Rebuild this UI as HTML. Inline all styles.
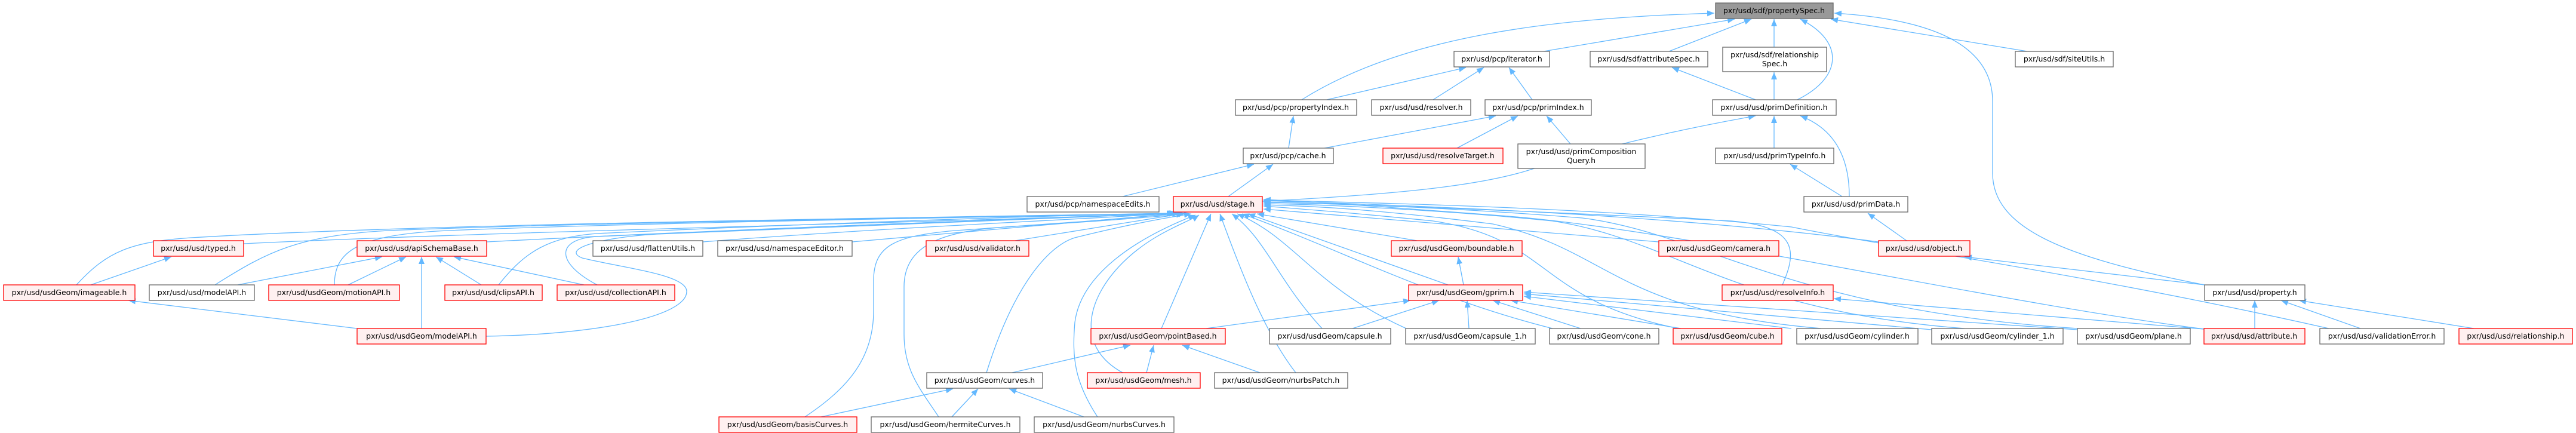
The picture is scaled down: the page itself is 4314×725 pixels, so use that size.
<!DOCTYPE html>
<html><head><meta charset="utf-8"><style>
html,body{margin:0;padding:0;background:#fff;}
svg{display:block;}
text{font-family:"DejaVu Sans","Liberation Sans",sans-serif;font-size:12.5px;fill:#000;text-anchor:middle;}
.e{fill:none;stroke:#63b8ff;stroke-width:1.3;}
.w{fill:#fff;stroke:#666;stroke-width:1.3;}
.r{fill:#fff0f0;stroke:#ff0000;stroke-width:1.3;}
.g{fill:#999;stroke:#666;stroke-width:1.3;}
</style></head><body>
<svg width="4314" height="725" viewBox="0 0 4314 725" xmlns="http://www.w3.org/2000/svg">
<defs><marker id="a" markerUnits="userSpaceOnUse" markerWidth="14" markerHeight="12" refX="12" refY="5" orient="auto"><path d="M0,0 L12,5 L0,10 z" fill="#63b8ff"/></marker></defs>
<g class="e" marker-end="url(#a)">
<path d="M2180,167 C2350,60 2600,30 2871,22"/>
<path d="M2585,86 L2905,32"/>
<path d="M2795,86 L2933,32"/>
<path d="M2971,79 L2971,32"/>
<path d="M3010,167 C3085,130 3090,70 3015,32"/>
<path d="M3395,86 L3066,32"/>
<path d="M3692,477 C3450,430 3337,380 3337,290 L3337,170 C3337,60 3200,30 3072,22"/>
<path d="M2222,167 L2455,113"/>
<path d="M2400,167 L2485,113"/>
<path d="M2566,167 L2527,113"/>
<path d="M2940,167 L2800,113"/>
<path d="M2971,167 L2971,121"/>
<path d="M2158,248 L2166,194"/>
<path d="M2218,248 L2505,194"/>
<path d="M2440,248 L2542,194"/>
<path d="M2630,241 L2590,194"/>
<path d="M2114,337 C2350,325 2480,310 2560,285 C2700,240 2850,210 2940,194"/>
<path d="M2971,248 L2971,194"/>
<path d="M3097,329 C3097,260 3070,215 3015,194"/>
<path d="M1880,329 L2100,275"/>
<path d="M2057,329 L2132,275"/>
<path d="M3085,329 L2998,275"/>
<path d="M3193,403 L3128,357"/>
<path d="M3692,477 L3290,430"/>
<path d="M3776,550 L3776,503"/>
<path d="M3953,550 L3820,503"/>
<path d="M4143,550 L3850,503"/>
<path d="M3691,551 L3071,500"/>
<!-- stage incoming left -->
<path d="M408,408 C900,385 1600,372 1966,357"/>
<path d="M815,405 C1300,380 1700,368 1968,357"/>
<path d="M1177,405 C1500,380 1800,368 1970,357"/>
<path d="M1427,405 C1650,385 1850,368 1975,357"/>
<path d="M1700,403 L1985,357"/>
<path d="M128,477 C180,420 220,405 320,398 C700,375 1500,365 1966,357"/>
<path d="M360,477 C450,420 500,395 650,386 C1000,372 1600,365 1966,357"/>
<path d="M560,477 C560,420 600,393 750,386 C1100,372 1600,365 1968,357"/>
<path d="M835,477 C880,420 920,397 1000,391 C1300,377 1700,362 1970,357"/>
<path d="M1000,477 C930,440 930,400 1000,396 C1300,383 1700,365 1970,357"/>
<path d="M814,563 C1000,560 1150,530 1150,488 C1150,460 1050,450 975,432 C940,418 1000,398 1100,392 C1500,374 1800,362 1972,357"/>
<path d="M1348,698 C1420,650 1463,600 1463,520 L1463,470 C1463,410 1500,395 1600,386 C1800,372 1900,365 1975,357"/>
<path d="M1572,698 C1540,650 1514,620 1514,560 L1514,480 C1514,400 1600,385 1700,379 C1850,370 1950,362 1982,358"/>
<path d="M1652,624 C1700,470 1760,410 1800,398 C1880,378 1950,365 1995,358"/>
<path d="M1880,624 C1800,580 1820,500 1880,440 C1930,390 1990,372 2008,360"/>
<path d="M1838,698 C1800,640 1795,600 1800,540 C1810,460 1900,400 2002,360"/>
<path d="M1945,550 L2028,358"/>
<path d="M2170,624 C2120,560 2080,460 2043,358"/>
<path d="M2214,550 C2140,470 2120,400 2063,358"/>
<path d="M2355,550 C2200,480 2170,400 2072,358"/>
<path d="M2600,550 C2400,500 2250,420 2080,358"/>
<path d="M2425,477 L2090,358"/>
<path d="M2373,403 L2105,358"/>
<path d="M2778,405 L2116,350"/>
<path d="M2810,550 C2570,500 2600,400 2400,370 C2250,355 2180,350 2116,345"/>
<path d="M3050,550 C2700,520 2700,420 2500,375 C2300,350 2200,345 2116,343"/>
<path d="M3290,550 C2900,520 2800,400 2600,370 C2400,350 2200,342 2116,341"/>
<path d="M3480,550 C3000,520 2850,390 2650,365 C2400,345 2200,340 2116,339"/>
<path d="M2985,477 C3010,420 3010,380 2900,370 C2500,350 2250,342 2116,338"/>
<path d="M3146,405 C2800,360 2400,345 2116,336"/>
<path d="M3900,550 C3500,460 3200,420 3000,380 C2700,350 2400,342 2116,335"/>
<path d="M3691,551 C3300,500 2800,380 2500,360 C2300,345 2200,338 2116,334"/>
<!-- others -->
<path d="M152,477 L287,430"/>
<path d="M398,477 L640,430"/>
<path d="M583,477 L680,430"/>
<path d="M706,550 L706,430"/>
<path d="M806,477 L730,430"/>
<path d="M978,477 L760,430"/>
<path d="M598,550 L215,503"/>
<path d="M2451,477 L2442,430"/>
<path d="M2020,550 L2362,503"/>
<path d="M2265,550 L2410,503"/>
<path d="M2460,550 L2457,503"/>
<path d="M2647,550 L2500,503"/>
<path d="M2815,550 L2530,503"/>
<path d="M3000,550 L2552,496"/>
<path d="M3235,552 L2552,492"/>
<path d="M3479,552 L2552,489"/>
<path d="M1695,624 L1893,578"/>
<path d="M1920,624 L1932,578"/>
<path d="M2110,624 L1980,578"/>
<path d="M1375,698 L1596,651"/>
<path d="M1594,698 L1638,651"/>
<path d="M1815,698 L1690,651"/>
</g>
<g>
<rect class="g" x="2873" y="5" width="197" height="26"/><text x="2971" y="22">pxr/usd/sdf/propertySpec.h</text>
<rect class="w" x="2435" y="86" width="160" height="26"/><text x="2515" y="103">pxr/usd/pcp/iterator.h</text>
<rect class="w" x="2663" y="86" width="197" height="26"/><text x="2761" y="103">pxr/usd/sdf/attributeSpec.h</text>
<rect class="w" x="2885" y="79" width="174" height="41"/><text x="2972" y="96">pxr/usd/sdf/relationship</text><text x="2972" y="111">Spec.h</text>
<rect class="w" x="3375" y="86" width="164" height="26"/><text x="3457" y="103">pxr/usd/sdf/siteUtils.h</text>
<rect class="w" x="2069" y="167" width="203" height="26"/><text x="2170" y="184">pxr/usd/pcp/propertyIndex.h</text>
<rect class="w" x="2297" y="167" width="166" height="26"/><text x="2380" y="184">pxr/usd/usd/resolver.h</text>
<rect class="w" x="2487" y="167" width="178" height="26"/><text x="2576" y="184">pxr/usd/pcp/primIndex.h</text>
<rect class="w" x="2868" y="167" width="207" height="26"/><text x="2971" y="184">pxr/usd/usd/primDefinition.h</text>
<rect class="w" x="2082" y="248" width="151" height="26"/><text x="2157" y="265">pxr/usd/pcp/cache.h</text>
<rect class="r" x="2316" y="248" width="201" height="26"/><text x="2416" y="265">pxr/usd/usd/resolveTarget.h</text>
<rect class="w" x="2542" y="241" width="213" height="41"/><text x="2648" y="258">pxr/usd/usd/primComposition</text><text x="2648" y="273">Query.h</text>
<rect class="w" x="2873" y="248" width="198" height="26"/><text x="2972" y="265">pxr/usd/usd/primTypeInfo.h</text>
<rect class="w" x="1720" y="329" width="221" height="26"/><text x="1830" y="346">pxr/usd/pcp/namespaceEdits.h</text>
<rect class="r" x="1965" y="329" width="149" height="26"/><text x="2039" y="346">pxr/usd/usd/stage.h</text>
<rect class="w" x="3021" y="329" width="174" height="26"/><text x="3108" y="346">pxr/usd/usd/primData.h</text>
<rect class="r" x="257" y="403" width="151" height="26"/><text x="332" y="420">pxr/usd/usd/typed.h</text>
<rect class="r" x="598" y="403" width="217" height="26"/><text x="706" y="420">pxr/usd/usd/apiSchemaBase.h</text>
<rect class="w" x="993" y="403" width="184" height="26"/><text x="1085" y="420">pxr/usd/usd/flattenUtils.h</text>
<rect class="w" x="1202" y="403" width="225" height="26"/><text x="1314" y="420">pxr/usd/usd/namespaceEditor.h</text>
<rect class="r" x="1551" y="403" width="172" height="26"/><text x="1637" y="420">pxr/usd/usd/validator.h</text>
<rect class="r" x="2330" y="403" width="219" height="26"/><text x="2439" y="420">pxr/usd/usdGeom/boundable.h</text>
<rect class="r" x="2778" y="403" width="201" height="26"/><text x="2878" y="420">pxr/usd/usdGeom/camera.h</text>
<rect class="r" x="3146" y="403" width="153" height="26"/><text x="3222" y="420">pxr/usd/usd/object.h</text>
<rect class="r" x="6" y="477" width="220" height="26"/><text x="116" y="494">pxr/usd/usdGeom/imageable.h</text>
<rect class="w" x="250" y="477" width="176" height="26"/><text x="338" y="494">pxr/usd/usd/modelAPI.h</text>
<rect class="r" x="450" y="477" width="219" height="26"/><text x="559" y="494">pxr/usd/usdGeom/motionAPI.h</text>
<rect class="r" x="745" y="477" width="163" height="26"/><text x="826" y="494">pxr/usd/usd/clipsAPI.h</text>
<rect class="r" x="933" y="477" width="197" height="26"/><text x="1031" y="494">pxr/usd/usd/collectionAPI.h</text>
<rect class="r" x="2359" y="477" width="191" height="26"/><text x="2454" y="494">pxr/usd/usdGeom/gprim.h</text>
<rect class="r" x="2884" y="477" width="186" height="26"/><text x="2977" y="494">pxr/usd/usd/resolveInfo.h</text>
<rect class="w" x="3692" y="477" width="168" height="26"/><text x="3776" y="494">pxr/usd/usd/property.h</text>
<rect class="r" x="598" y="550" width="216" height="26"/><text x="706" y="567">pxr/usd/usdGeom/modelAPI.h</text>
<rect class="r" x="1827" y="550" width="225" height="26"/><text x="1939" y="567">pxr/usd/usdGeom/pointBased.h</text>
<rect class="w" x="2126" y="550" width="203" height="26"/><text x="2227" y="567">pxr/usd/usdGeom/capsule.h</text>
<rect class="w" x="2354" y="550" width="217" height="26"/><text x="2462" y="567">pxr/usd/usdGeom/capsule_1.h</text>
<rect class="w" x="2595" y="550" width="183" height="26"/><text x="2686" y="567">pxr/usd/usdGeom/cone.h</text>
<rect class="r" x="2802" y="550" width="182" height="26"/><text x="2893" y="567">pxr/usd/usdGeom/cube.h</text>
<rect class="w" x="3009" y="550" width="203" height="26"/><text x="3110" y="567">pxr/usd/usdGeom/cylinder.h</text>
<rect class="w" x="3235" y="550" width="220" height="26"/><text x="3345" y="567">pxr/usd/usdGeom/cylinder_1.h</text>
<rect class="w" x="3479" y="550" width="189" height="26"/><text x="3573" y="567">pxr/usd/usdGeom/plane.h</text>
<rect class="r" x="3691" y="550" width="169" height="26"/><text x="3775" y="567">pxr/usd/usd/attribute.h</text>
<rect class="w" x="3885" y="550" width="208" height="26"/><text x="3989" y="567">pxr/usd/usd/validationError.h</text>
<rect class="r" x="4118" y="550" width="190" height="26"/><text x="4213" y="567">pxr/usd/usd/relationship.h</text>
<rect class="w" x="1552" y="624" width="194" height="26"/><text x="1649" y="641">pxr/usd/usdGeom/curves.h</text>
<rect class="r" x="1821" y="624" width="189" height="26"/><text x="1915" y="641">pxr/usd/usdGeom/mesh.h</text>
<rect class="w" x="2034" y="624" width="223" height="26"/><text x="2145" y="641">pxr/usd/usdGeom/nurbsPatch.h</text>
<rect class="r" x="1204" y="698" width="231" height="26"/><text x="1319" y="715">pxr/usd/usdGeom/basisCurves.h</text>
<rect class="w" x="1459" y="698" width="249" height="26"/><text x="1583" y="715">pxr/usd/usdGeom/hermiteCurves.h</text>
<rect class="w" x="1732" y="698" width="234" height="26"/><text x="1849" y="715">pxr/usd/usdGeom/nurbsCurves.h</text>
</g>
</svg>
</body></html>
